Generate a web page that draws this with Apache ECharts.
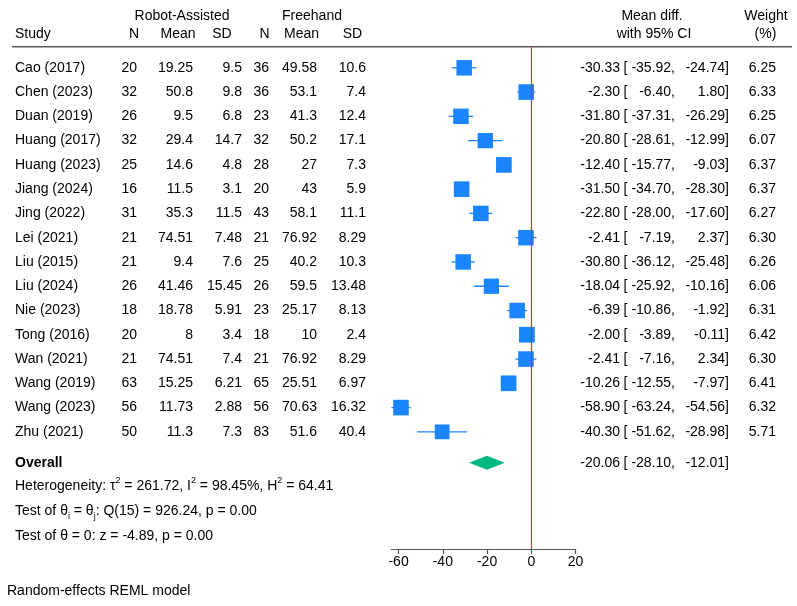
<!DOCTYPE html>
<html><head><meta charset="utf-8">
<script src="https://cdn.jsdelivr.net/npm/echarts@6/dist/echarts.min.js"></script>
<style>html,body{margin:0;padding:0;background:#fff}#c{width:797px;height:606px}</style>
</head><body><div id="c"></div>
<script>
const studies = ['Cao (2017)','Chen (2023)','Duan (2019)','Huang (2017)','Huang (2023)','Jiang (2024)','Jing (2022)','Lei (2021)','Liu (2015)','Liu (2024)','Nie (2023)','Tong (2016)','Wan (2021)','Wang (2019)','Wang (2023)','Zhu (2021)'];
const raN    = [20,32,26,32,25,16,31,21,21,26,18,20,21,63,56,50];
const raMean = [19.25,50.8,9.5,29.4,14.6,11.5,35.3,74.51,9.4,41.46,18.78,8,74.51,15.25,11.73,11.3];
const raSD   = [9.5,9.8,6.8,14.7,4.8,3.1,11.5,7.48,7.6,15.45,5.91,3.4,7.4,6.21,2.88,7.3];
const fhN    = [36,36,23,32,28,20,43,21,25,26,23,18,21,65,56,83];
const fhMean = [49.58,53.1,41.3,50.2,27,43,58.1,76.92,40.2,59.5,25.17,10,76.92,25.51,70.63,51.6];
const fhSD   = [10.6,7.4,12.4,17.1,7.3,5.9,11.1,8.29,10.3,13.48,8.13,2.4,8.29,6.97,16.32,40.4];
const meanDiff = [-30.33,-2.30,-31.80,-20.80,-12.40,-31.50,-22.80,-2.41,-30.80,-18.04,-6.39,-2.00,-2.41,-10.26,-58.90,-40.30];
const ciLow    = [-35.92,-6.40,-37.31,-28.61,-15.77,-34.70,-28.00,-7.19,-36.12,-25.92,-10.86,-3.89,-7.16,-12.55,-63.24,-51.62];
const ciHigh   = [-24.74,1.80,-26.29,-12.99,-9.03,-28.30,-17.60,2.37,-25.48,-10.16,-1.92,-0.11,2.34,-7.97,-54.56,-28.98];
const weights  = [6.25,6.33,6.25,6.07,6.37,6.37,6.27,6.30,6.26,6.06,6.31,6.42,6.30,6.41,6.32,5.71];
const overallMD = -20.06, overallLow = -28.10, overallHigh = -12.01;
const xTicks = [-60,-40,-20,0,20];

const FONT_FAMILY = '"Liberation Sans", Arial, Helvetica, sans-serif';
const FONT = '14px ' + FONT_FAMILY;
const BLUE = '#1a85ff', GREEN = '#00b982', RED = '#e8262e';
const ROW_Y0 = 67.8, ROW_H = 24.27, TOP = 46.7, AXIS_Y = 549;
const yMin = (TOP - ROW_Y0) / ROW_H, yMax = (AXIS_Y - ROW_Y0) / ROW_H;
const overallRow = 16.27;

const cells = [];
function cell(x, row, text, align, bold) { cells.push({x, row, text, align, bold}); }
studies.forEach((s, i) => {
  cell(15, i, s, 'left');
  cell(137, i, String(raN[i]), 'right');
  cell(193, i, String(raMean[i]), 'right');
  cell(242, i, String(raSD[i]), 'right');
  cell(269, i, String(fhN[i]), 'right');
  cell(317, i, String(fhMean[i]), 'right');
  cell(366, i, String(fhSD[i]), 'right');
  cell(620, i, meanDiff[i].toFixed(2), 'right');
  cell(623.5, i, '[', 'left');
  cell(675, i, ciLow[i].toFixed(2) + ',', 'right');
  cell(729, i, ciHigh[i].toFixed(2) + ']', 'right');
  cell(776, i, weights[i].toFixed(2), 'right');
});
cell(15, overallRow, 'Overall', 'left', true);
cell(620, overallRow, overallMD.toFixed(2), 'right');
cell(623.5, overallRow, '[', 'left');
cell(675, overallRow, overallLow.toFixed(2) + ',', 'right');
cell(729, overallRow, overallHigh.toFixed(2) + ']', 'right');

function txt(x, y, text, align, extra) {
  return Object.assign({type: 'text', x: x, y: y, silent: true,
    style: Object.assign({text: text, font: FONT, fill: '#000', align: align || 'left', verticalAlign: 'middle'}, extra || {})});
}

const chart = echarts.init(document.getElementById('c'), null, {renderer: 'canvas'});
chart.setOption({
  backgroundColor: '#fff',
  animation: false,
  grid: [
    {left: 391.38, width: 184.17, top: TOP, height: AXIS_Y - TOP, outerBoundsMode: 'none', containLabel: false},
    {left: 0, width: 797, top: TOP, height: AXIS_Y - TOP, outerBoundsMode: 'none', containLabel: false}
  ],
  xAxis: [
    {type: 'value', gridIndex: 0, position: 'bottom', min: Math.min(...ciLow), max: 20,
     axisLine: {show: true, onZero: false, lineStyle: {color: '#555', width: 1.2}},
     axisTick: {show: true, length: 5, customValues: xTicks, lineStyle: {color: '#555', width: 1.2}},
     axisLabel: {customValues: xTicks, color: '#000', fontSize: 14, fontFamily: FONT_FAMILY, margin: 6},
     splitLine: {show: false}},
    {type: 'value', gridIndex: 1, min: 0, max: 797, show: false}
  ],
  yAxis: [
    {type: 'value', gridIndex: 0, inverse: true, min: yMin, max: yMax, show: false},
    {type: 'value', gridIndex: 1, inverse: true, min: yMin, max: yMax, show: false}
  ],
  series: [
    {type: 'custom', xAxisIndex: 0, yAxisIndex: 0, clip: false, silent: true,
     data: studies.map((s, i) => [meanDiff[i], i, ciLow[i], ciHigh[i], weights[i]]),
     renderItem: function (params, api) {
       const c = api.coord([api.value(0), api.value(1)]);
       const l = api.coord([api.value(2), api.value(1)]);
       const h = api.coord([api.value(3), api.value(1)]);
       const s = 6.2 * Math.sqrt(api.value(4));
       return {type: 'group', children: [
         {type: 'line', shape: {x1: l[0], y1: l[1], x2: h[0], y2: h[1]}, style: {stroke: BLUE, lineWidth: 1.3}},
         {type: 'rect', shape: {x: c[0] - s / 2, y: c[1] - s / 2, width: s, height: s}, style: {fill: BLUE}}
       ]};
     },
     markLine: {silent: true, symbol: 'none', label: {show: false},
       lineStyle: {color: RED, width: 1.2, type: 'solid'}, data: [{xAxis: 0}]}
    },
    {type: 'custom', xAxisIndex: 0, yAxisIndex: 0, clip: false, silent: true,
     data: [[overallMD, overallRow, overallLow, overallHigh]],
     renderItem: function (params, api) {
       const c = api.coord([api.value(0), api.value(1)]);
       const l = api.coord([api.value(2), api.value(1)]);
       const h = api.coord([api.value(3), api.value(1)]);
       const hh = 7;
       return {type: 'polygon', shape: {points: [[l[0], l[1]], [c[0], c[1] - hh], [h[0], h[1]], [c[0], c[1] + hh]]}, style: {fill: GREEN}};
     }
    },
    {type: 'custom', xAxisIndex: 1, yAxisIndex: 1, clip: false, silent: true,
     data: cells.map((c, i) => [c.x, c.row, i]),
     renderItem: function (params, api) {
       const c = cells[api.value(2)];
       const p = api.coord([c.x, c.row]);
       return {type: 'text', x: p[0], y: p[1],
         style: {text: c.text, font: (c.bold ? 'bold ' : '') + FONT, fill: '#000', align: c.align, verticalAlign: 'middle'}};
     }
    }
  ],
  graphic: [
    {type: 'line', silent: true, shape: {x1: 12, y1: TOP, x2: 792, y2: TOP}, style: {stroke: '#5a5a5a', lineWidth: 1.6}},
    txt(182, 16, 'Robot-Assisted', 'center'),
    txt(312, 16, 'Freehand', 'center'),
    txt(15, 34, 'Study', 'left'),
    txt(134, 34, 'N', 'center'),
    txt(178, 34, 'Mean', 'center'),
    txt(222, 34, 'SD', 'center'),
    txt(264.5, 34, 'N', 'center'),
    txt(301.5, 34, 'Mean', 'center'),
    txt(352.5, 34, 'SD', 'center'),
    txt(652, 16, 'Mean diff.', 'center'),
    txt(654, 34, 'with 95% CI', 'center'),
    txt(766, 16, 'Weight', 'center'),
    txt(765.5, 34, '(%)', 'center'),
    txt(15, 486.5, 'Heterogeneity: τ{sup|2} = 261.72, I{sup|2} = 98.45%, H{sup|2} = 64.41', 'left',
        {lineHeight: 20, rich: {sup: {fontSize: 9, fontFamily: FONT_FAMILY, lineHeight: 11, verticalAlign: 'top'}}}),
    txt(15, 511.5, 'Test of θ{sub|i} = θ{sub|j}: Q(15) = 926.24, p = 0.00', 'left',
        {lineHeight: 20, rich: {sub: {fontSize: 9, fontFamily: FONT_FAMILY, lineHeight: 11, verticalAlign: 'bottom'}}}),
    txt(15, 536, 'Test of θ = 0: z = -4.89, p = 0.00', 'left'),
    txt(7, 591.5, 'Random-effects REML model', 'left')
  ]
});
</script></body></html>
